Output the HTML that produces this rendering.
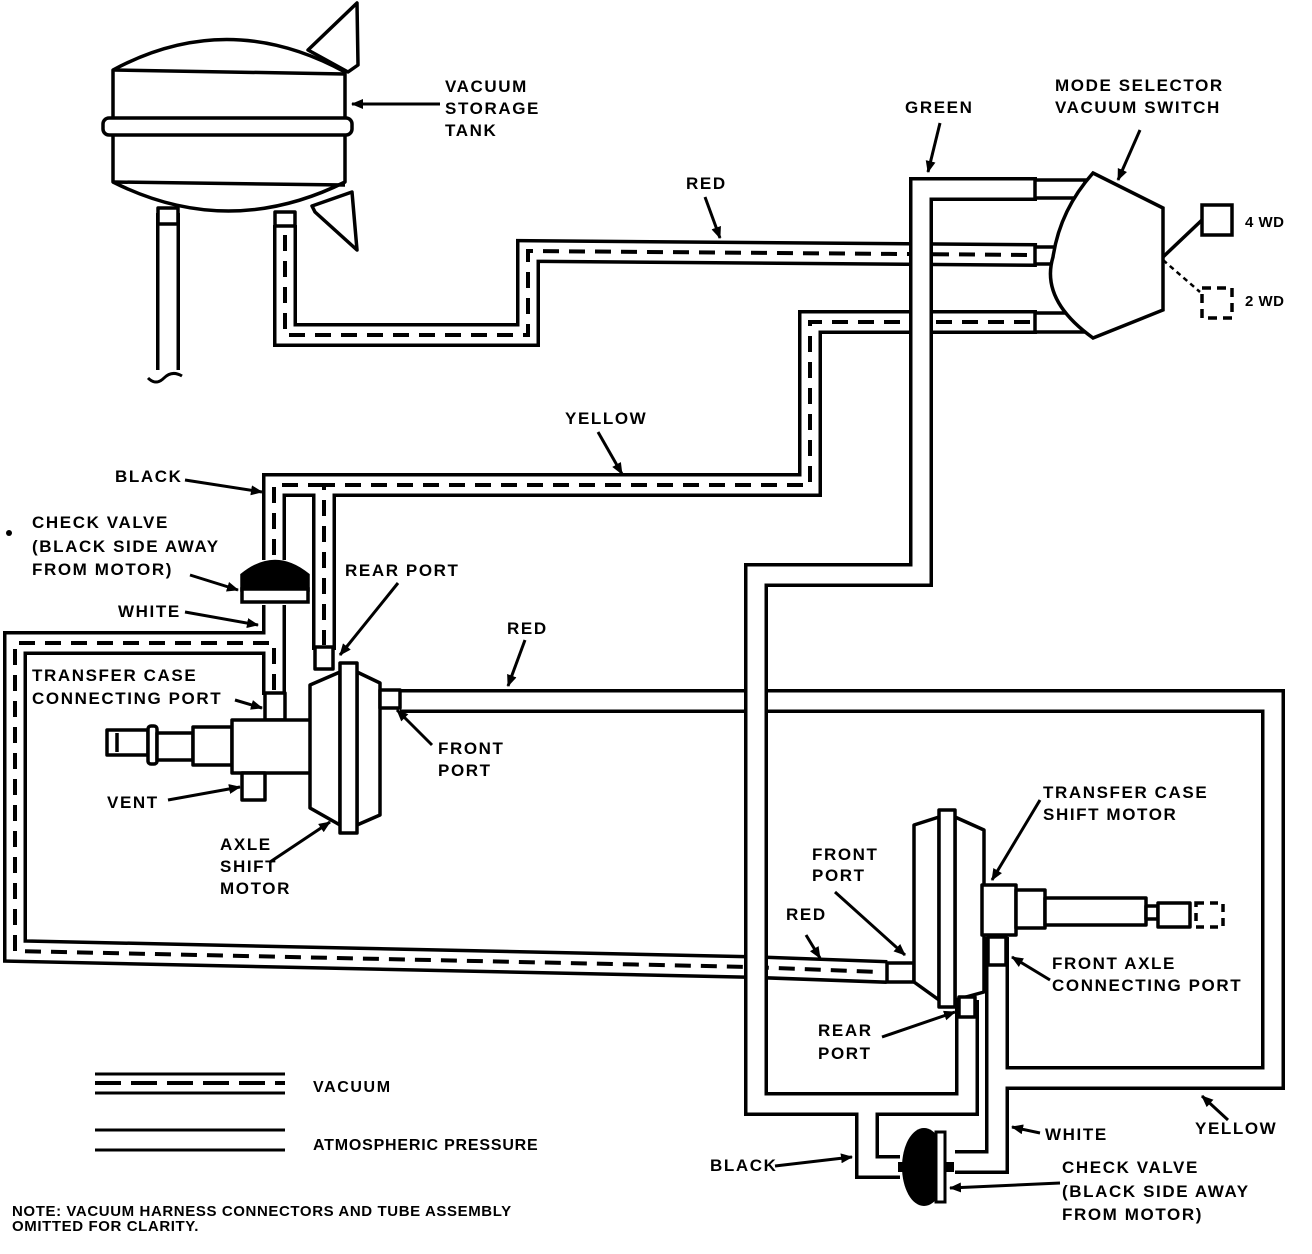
<!DOCTYPE html>
<html><head><meta charset="utf-8"><style>
html,body{margin:0;padding:0;background:#fff;}
svg{display:block;}
text{font-family:"Liberation Sans",sans-serif;font-weight:bold;font-size:17px;letter-spacing:1.6px;fill:#000;}
</style></head><body>
<svg width="1312" height="1254" viewBox="0 0 1312 1254" xmlns="http://www.w3.org/2000/svg">
<defs>
<marker id="ah" viewBox="0 0 12 10" refX="11" refY="5" markerWidth="12" markerHeight="10" markerUnits="userSpaceOnUse" orient="auto">
<path d="M0,0 L12,5 L0,10 Z" fill="#000"/></marker>
</defs>
<g fill="none" stroke-linejoin="miter" stroke-linecap="butt">
<!-- group 1 -->
<g stroke="#000" stroke-width="24">
<polyline points="285,225 285,335 528,335 528,251 1037,255"/>
<polyline points="1037,322 810,322 810,485 324,485 324,650"/>
<polyline points="274,560 274,485 330,485"/>
<polyline points="274,605 274,695"/>
<polyline points="274,695 274,643 15,643 15,951 750,967 887,972"/>
<polyline points="168,213 168,370"/>
</g>
<g stroke="#fff" stroke-width="17">
<polyline points="285,223 285,335 528,335 528,251 1039,255"/>
<polyline points="1039,322 810,322 810,485 324,485 324,652"/>
<polyline points="274,562 274,485 330,485"/>
<polyline points="274,603 274,697"/>
<polyline points="274,697 274,643 15,643 15,951 750,967 889,972"/>
<polyline points="168,211 168,378"/>
</g>
<g stroke="#000" stroke-width="4" stroke-dasharray="16 10">
<polyline points="285,235 285,335 528,335 528,251 1030,255"/>
<polyline points="1030,322 810,322 810,485 324,485 324,645"/>
<polyline points="274,555 274,485 324,485"/>
<polyline points="274,690 274,643 15,643 15,951 750,967 880,972"/>
</g>
<!-- red loop + lower white -->
<g stroke="#000" stroke-width="24">
<polyline points="400,701 1273,701 1273,1078 997,1078"/>
<polyline points="997,937 997,1162 955,1162"/>
</g>
<g stroke="#fff" stroke-width="17">
<polyline points="398,701 1273,701 1273,1078 997,1078"/>
<polyline points="997,935 997,1162 953,1162"/>
</g>
<!-- green group (on top) -->
<g stroke="#000" stroke-width="24">
<polyline points="1037,189 921,189 921,575 756,575 756,1104 867,1104 867,1167 900,1167"/>
<polyline points="967,1000 967,1104 867,1104"/>
</g>
<g stroke="#fff" stroke-width="17">
<polyline points="1039,189 921,189 921,575 756,575 756,1104 867,1104 867,1167 902,1167"/>
<polyline points="967,998 967,1104 867,1104"/>
</g>
</g>
<!-- Tank -->
<g stroke="#000" stroke-width="3.5" fill="#fff" stroke-linejoin="round">
<polygon points="308,50 357,3 358,65 348,72"/>
<polygon points="312,206 352,192 357,250 315,212"/>
<path d="M113,70 Q228,8 345,72 L345,182 Q228,240 113,182 Z"/>
<line x1="113" y1="70" x2="345" y2="74"/>
<line x1="113" y1="182" x2="345" y2="185"/>
<rect x="103" y="118" width="249" height="17" rx="6"/>
<rect x="158" y="208" width="20" height="16"/>
<rect x="275" y="212" width="20" height="14"/>
</g>
<path d="M148,378 Q156,386 164,378 Q172,370 182,376" stroke="#000" stroke-width="3" fill="none"/>
<!-- Mode selector switch -->
<g stroke="#000" stroke-width="3.5" fill="#fff">
<rect x="1035" y="180" width="50" height="18"/>
<rect x="1035" y="247" width="20" height="17"/>
<rect x="1035" y="313" width="50" height="19"/>
<path d="M1093,173 L1163,208 L1163,310 L1093,338 Q1040,300 1053,257 Q1060,210 1093,173 Z"/>
<line x1="1163" y1="257" x2="1202" y2="220"/>
<rect x="1202" y="205" width="30" height="30"/>
</g>
<line x1="1163" y1="260" x2="1200" y2="292" stroke="#000" stroke-width="2.5" stroke-dasharray="5 4"/>
<rect x="1202" y="288" width="30" height="30" fill="none" stroke="#000" stroke-width="3.5" stroke-dasharray="9 6"/>
<!-- upper check valve -->
<g stroke="#000" stroke-width="3.5">
<path d="M242,590 L242,575 Q275,548 308,575 L308,590 Z" fill="#000"/>
<rect x="242" y="589" width="66" height="13" fill="#fff"/>
</g>
<!-- Axle shift motor -->
<g stroke="#000" stroke-width="3.5" fill="#fff" stroke-linejoin="round">
<rect x="315" y="647" width="18" height="22"/>
<rect x="265" y="693" width="20" height="27"/>
<rect x="107" y="730" width="41" height="25"/>
<line x1="117" y1="733" x2="117" y2="752"/>
<rect x="148" y="726" width="9" height="38" rx="3"/>
<rect x="157" y="733" width="36" height="27"/>
<rect x="193" y="727" width="39" height="38"/>
<rect x="232" y="720" width="80" height="53"/>
<rect x="242" y="773" width="23" height="27"/>
<polygon points="310,685 340,672 340,825 310,808"/>
<polygon points="357,672 380,683 380,815 357,825"/>
<rect x="340" y="663" width="17" height="170"/>
<rect x="380" y="690" width="20" height="18"/>
</g>
<!-- Transfer case motor -->
<g stroke="#000" stroke-width="3.5" fill="#fff" stroke-linejoin="round">
<rect x="887" y="963" width="27" height="19"/>
<polygon points="914,825 939,817 939,1000 914,982"/>
<polygon points="955,817 984,830 984,992 955,1000"/>
<rect x="939" y="810" width="16" height="197"/>
<rect x="959" y="997" width="16" height="20"/>
<rect x="988" y="937" width="18" height="28"/>
<rect x="982" y="885" width="34" height="50"/>
<rect x="1016" y="890" width="29" height="38"/>
<rect x="1045" y="898" width="101" height="27"/>
<rect x="1146" y="906" width="12" height="13"/>
<rect x="1158" y="903" width="32" height="24"/>
</g>
<rect x="1196" y="903" width="27" height="24" fill="none" stroke="#000" stroke-width="3.5" stroke-dasharray="8 6"/>
<!-- lower check valve -->
<ellipse cx="924" cy="1167" rx="22" ry="39" fill="#000"/>
<rect x="936" y="1132" width="9" height="70" fill="#fff" stroke="#000" stroke-width="3"/>
<rect x="898" y="1162" width="8" height="10" fill="#000"/>
<rect x="946" y="1162" width="8" height="10" fill="#000"/>
<!-- legend -->
<g stroke="#000" stroke-width="3">
<line x1="95" y1="1074" x2="285" y2="1074"/><line x1="95" y1="1093" x2="285" y2="1093"/>
<line x1="95" y1="1130" x2="285" y2="1130"/><line x1="95" y1="1150" x2="285" y2="1150"/>
</g>
<line x1="95" y1="1083" x2="285" y2="1083" stroke="#000" stroke-width="4" stroke-dasharray="26 10"/>
<!-- arrows -->
<g stroke="#000" stroke-width="3" marker-end="url(#ah)">
<line x1="440" y1="104" x2="352" y2="104"/>
<line x1="940" y1="123" x2="928" y2="172"/>
<line x1="1140" y1="130" x2="1118" y2="180"/>
<line x1="705" y1="197" x2="720" y2="238"/>
<line x1="598" y1="432" x2="622" y2="474"/>
<line x1="185" y1="480" x2="262" y2="492"/>
<line x1="190" y1="575" x2="238" y2="590"/>
<line x1="398" y1="583" x2="340" y2="655"/>
<line x1="185" y1="612" x2="258" y2="625"/>
<line x1="525" y1="640" x2="508" y2="686"/>
<line x1="235" y1="700" x2="262" y2="708"/>
<line x1="432" y1="745" x2="397" y2="710"/>
<line x1="168" y1="800" x2="240" y2="787"/>
<line x1="270" y1="862" x2="330" y2="822"/>
<line x1="1040" y1="800" x2="992" y2="880"/>
<line x1="835" y1="892" x2="905" y2="955"/>
<line x1="806" y1="935" x2="820" y2="958"/>
<line x1="1050" y1="980" x2="1012" y2="957"/>
<line x1="882" y1="1037" x2="955" y2="1012"/>
<line x1="1228" y1="1120" x2="1202" y2="1096"/>
<line x1="1040" y1="1133" x2="1012" y2="1127"/>
<line x1="775" y1="1166" x2="852" y2="1157"/>
<line x1="1060" y1="1183" x2="950" y2="1188"/>
</g>
<circle cx="9" cy="533" r="3" fill="#000"/>
<!-- labels -->
<text x="445" y="92">VACUUM</text><text x="445" y="114">STORAGE</text><text x="445" y="136">TANK</text>
<text x="905" y="113">GREEN</text>
<text x="1055" y="91">MODE SELECTOR</text><text x="1055" y="113">VACUUM SWITCH</text>
<text x="686" y="189">RED</text>
<text x="1245" y="227" style="font-size:15px;letter-spacing:0.5px">4 WD</text>
<text x="1245" y="306" style="font-size:15px;letter-spacing:0.5px">2 WD</text>
<text x="565" y="424">YELLOW</text>
<text x="115" y="482">BLACK</text>
<text x="32" y="528">CHECK VALVE</text><text x="32" y="552">(BLACK SIDE AWAY</text><text x="32" y="575">FROM MOTOR)</text>
<text x="345" y="576">REAR PORT</text>
<text x="118" y="617">WHITE</text>
<text x="507" y="634">RED</text>
<text x="32" y="681">TRANSFER CASE</text><text x="32" y="704">CONNECTING PORT</text>
<text x="438" y="754">FRONT</text><text x="438" y="776">PORT</text>
<text x="107" y="808">VENT</text>
<text x="220" y="850">AXLE</text><text x="220" y="872">SHIFT</text><text x="220" y="894">MOTOR</text>
<text x="1043" y="798">TRANSFER CASE</text><text x="1043" y="820">SHIFT MOTOR</text>
<text x="812" y="860">FRONT</text><text x="812" y="881">PORT</text>
<text x="786" y="920">RED</text>
<text x="1052" y="969">FRONT AXLE</text><text x="1052" y="991">CONNECTING PORT</text>
<text x="818" y="1036">REAR</text><text x="818" y="1059">PORT</text>
<text x="313" y="1092" style="font-size:16px">VACUUM</text>
<text x="313" y="1150" style="font-size:16px;letter-spacing:0.8px">ATMOSPHERIC PRESSURE</text>
<text x="1195" y="1134">YELLOW</text>
<text x="1045" y="1140">WHITE</text>
<text x="710" y="1171">BLACK</text>
<text x="1062" y="1173">CHECK VALVE</text><text x="1062" y="1197">(BLACK SIDE AWAY</text><text x="1062" y="1220">FROM MOTOR)</text>
<text x="12" y="1216" style="font-size:15px;letter-spacing:0.6px">NOTE: VACUUM HARNESS CONNECTORS AND TUBE ASSEMBLY</text>
<text x="12" y="1231" style="font-size:15px;letter-spacing:0.6px">OMITTED FOR CLARITY.</text>
</svg>
</body></html>
